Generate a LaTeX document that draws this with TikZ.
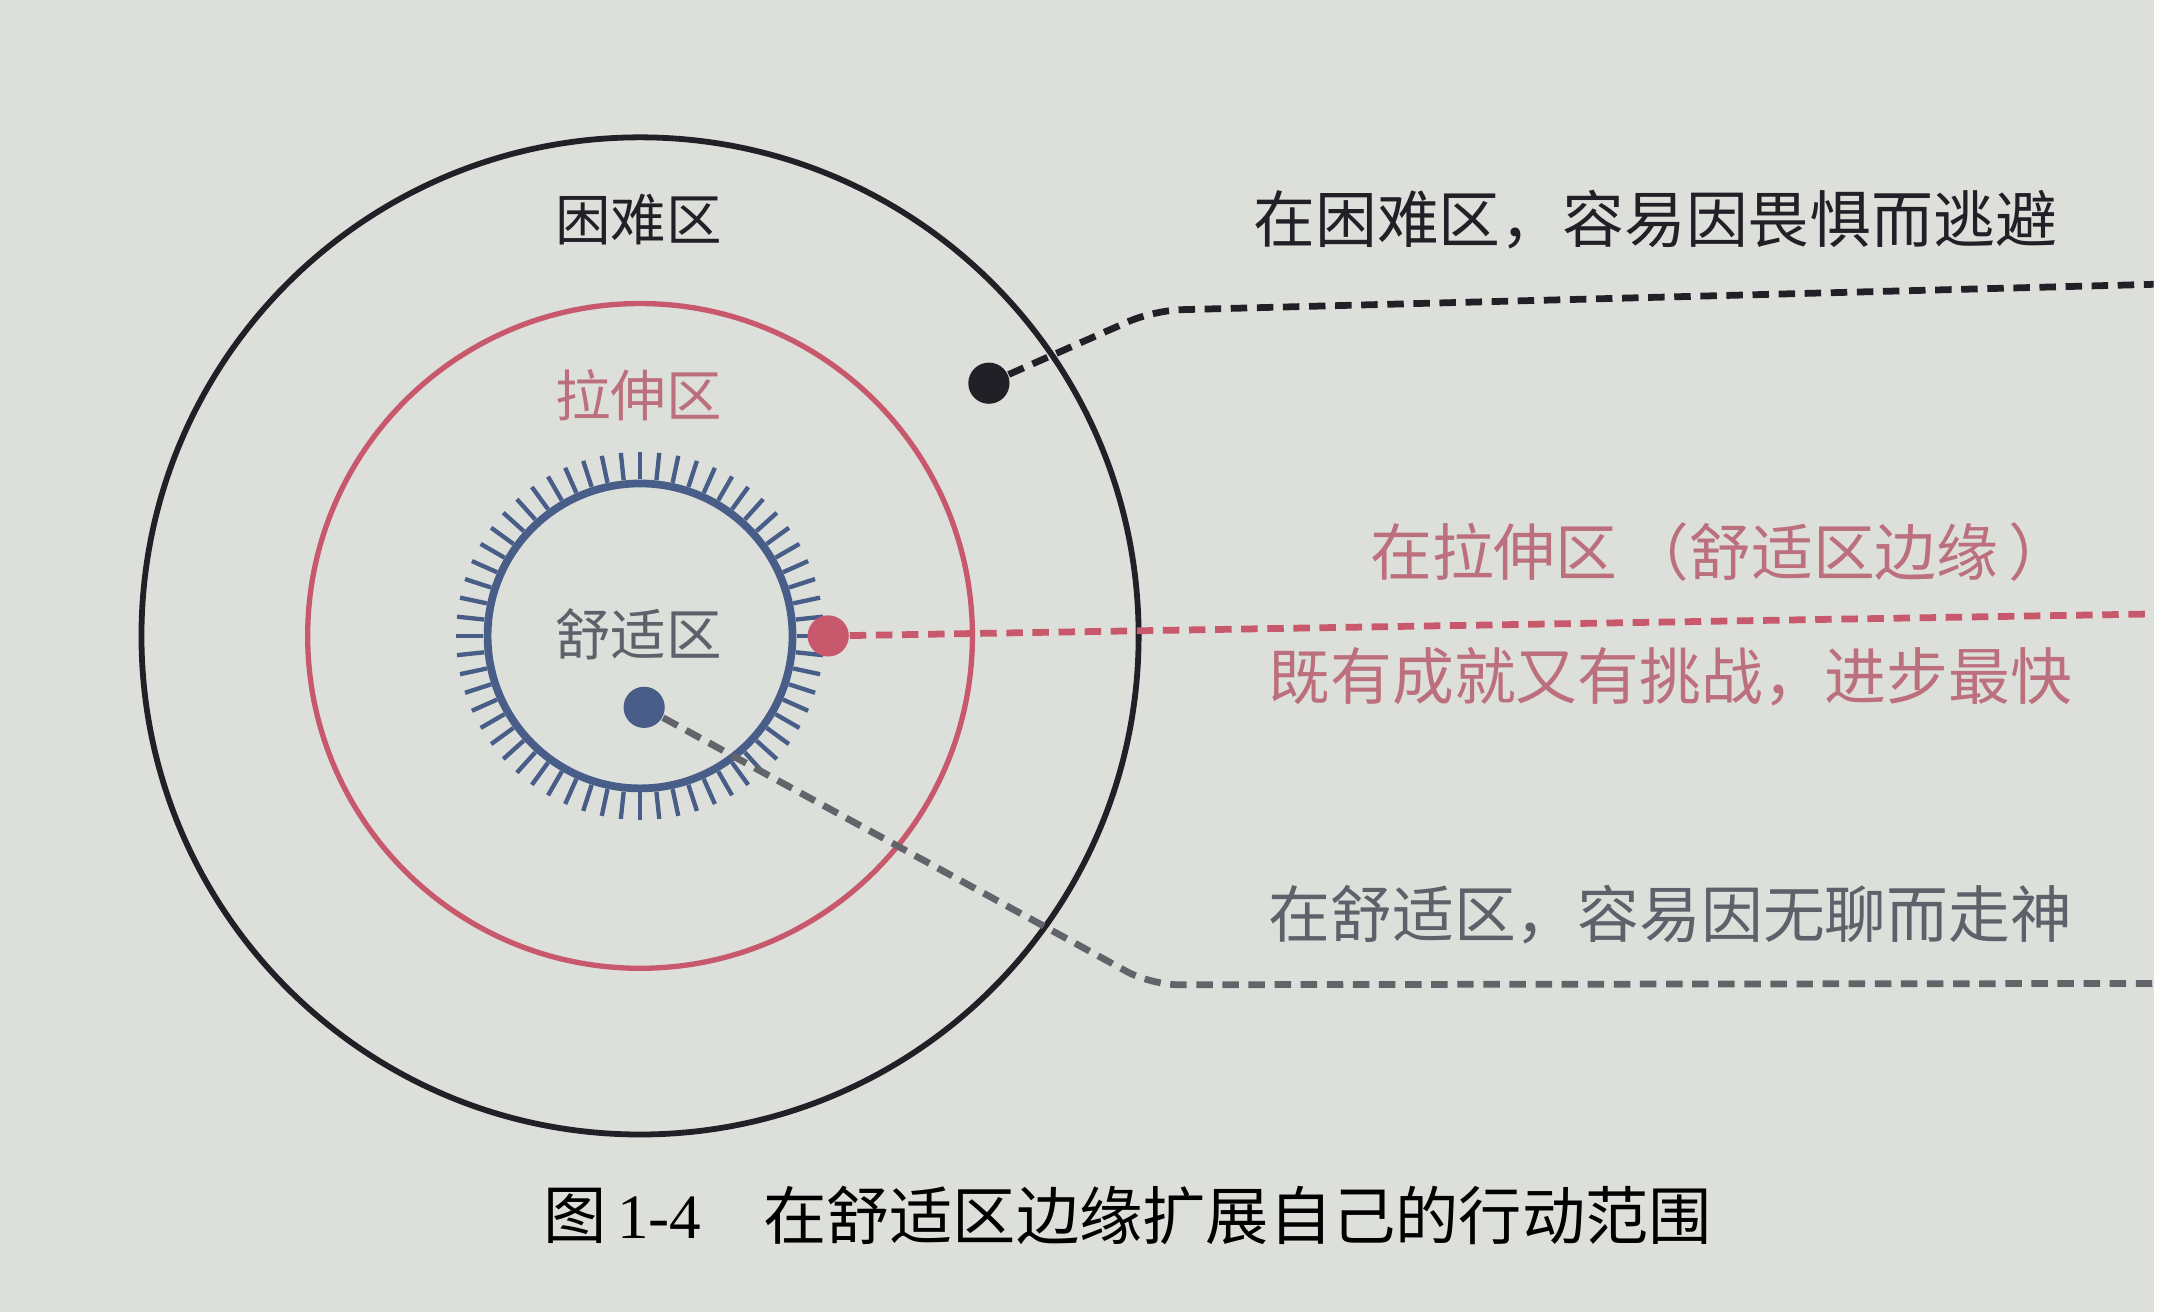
\documentclass[tikz,border=0pt]{standalone}
\usepackage{fontspec}
\setmainfont{Liberation Serif}
\newfontfamily\cjk{Noto Sans CJK SC}
\definecolor{paper}{RGB}{221,223,218}
\definecolor{hardcol}{RGB}{32,32,38}
\definecolor{stretchcol}{RGB}{200,88,108}
\definecolor{stretchtxt}{RGB}{188,112,126}
\definecolor{comfortcol}{RGB}{72,94,136}
\definecolor{comforttxt}{RGB}{92,97,106}
\definecolor{boredcol}{RGB}{98,100,106}

\begin{document}
\begin{tikzpicture}[
    zone/.style={font=\cjk\fontsize{11.5}{14}\selectfont, inner sep=0pt},
    note/.style={font=\cjk\fontsize{12.8}{15}\selectfont, inner sep=0pt, anchor=west},
    dot/.style={circle, fill, inner sep=0pt, minimum size=0.3cm},
    lead/.style={line width=1.4pt, dash pattern=on 0.12cm off 0.07cm}]
  \fill[paper] (0,0) rectangle (15.68,9.55);
  \coordinate (ctr) at (4.66,4.92);
  \draw[line width=1.2pt, hardcol] (ctr) circle (3.63);
  \draw[line width=1.1pt, stretchcol] (ctr) circle (2.42);
  \draw[line width=1.6pt, comfortcol] (ctr) circle (1.11);
  \foreach \a in {0,6,...,354}
    \draw[line width=0.9pt, comfortcol] ([shift={(\a:1.14)}]ctr) -- ([shift={(\a:1.34)}]ctr);
  \node[zone, hardcol] (hard) at (4.65,7.95) {困难区};
  \node[zone, stretchtxt] (stretch) at (4.65,6.67) {拉伸区};
  \node[zone, comforttxt] (comfort) at (4.65,4.93) {舒适区};
  \node[dot, hardcol] (hdot) at (7.20,6.76) {};
  \node[dot, stretchcol] (sdot) at (6.03,4.92) {};
  \node[dot, comfortcol] (cdot) at (4.69,4.40) {};
  \coordinate (hbend) at (8.40,7.29);
  \coordinate (hend) at (15.68,7.48);
  \coordinate (send) at (15.68,5.08);
  \coordinate (cbend) at (8.38,2.38);
  \coordinate (cend) at (15.68,2.39);
  \draw[lead, hardcol, rounded corners=0.2cm] (hdot) -- (hbend) -- (hend);
  \draw[lead, stretchcol] (sdot) -- (send);
  \draw[lead, boredcol, rounded corners=0.2cm] (cdot) -- (cbend) -- (cend);
  \node[note, hardcol] (hardnote) at (9.12,7.95) {在困难区，容易因畏惧而逃避};
  \node[note, stretchtxt] (stretchnote) at (9.97,5.53) {在拉伸区\,（舒适区边缘\,）};
  \node[note, stretchtxt] (gainnote) at (9.23,4.62) {既有成就又有挑战，进步最快};
  \node[note, comforttxt] (comfortnote) at (9.23,2.89) {在舒适区，容易因无聊而走神};
  \node[anchor=west, inner sep=0pt, black, font=\cjk\fontsize{13.1}{15}\selectfont] (fignum) at (3.95,0.70) {图\,{\rmfamily 1-4}};
  \node[anchor=west, inner sep=0pt, black, font=\cjk\fontsize{13.1}{15}\selectfont] (caption) at (5.55,0.70) {在舒适区边缘扩展自己的行动范围};
\end{tikzpicture}
\end{document}
